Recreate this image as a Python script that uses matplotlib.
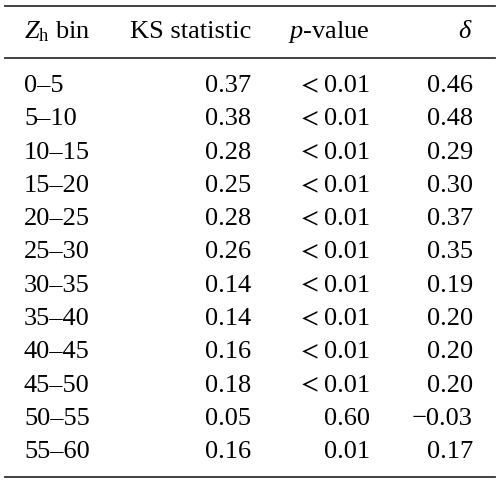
import matplotlib
matplotlib.use("Agg")
import matplotlib.pyplot as plt

bins = ["0–5", "5–10", "10–15", "15–20", "20–25", "25–30", "30–35",
        "35–40", "40–45", "45–50", "50–55", "55–60"]
ks_stat = ["0.37", "0.38", "0.28", "0.25", "0.28", "0.26", "0.14",
           "0.14", "0.16", "0.18", "0.05", "0.16"]
p_values = ["< 0.01"] * 10 + ["0.60", "0.01"]
deltas = ["0.46", "0.48", "0.29", "0.30", "0.37", "0.35", "0.19",
          "0.20", "0.20", "0.20", "−0.03", "0.17"]
headers = [r"$Z_{\mathrm{h}}$ bin", "KS statistic", r"$p$-value", r"$\delta$"]

plt.rcParams['font.family'] = ['Liberation Serif', 'DejaVu Serif']
plt.rcParams['mathtext.fontset'] = 'custom'
plt.rcParams['mathtext.rm'] = 'Liberation Serif'
plt.rcParams['mathtext.it'] = 'Liberation Serif:italic'
plt.rcParams['mathtext.bf'] = 'Liberation Serif:bold'
plt.rcParams['mathtext.fallback'] = 'stix'

fig = plt.figure(figsize=(5.0, 4.83), dpi=100)
ax = fig.add_axes([0, 0, 1, 1])
ax.set_xlim(0, 500)
ax.set_ylim(483, 0)
ax.axis('off')

fs = 19
col_x = [24, 251, 370, 473]
aligns = ['left', 'right', 'right', 'right']
line_kw = dict(color='#333333', lw=1.3)

ax.plot([5, 495], [6, 6], **line_kw)
ax.plot([5, 495], [58, 58], **line_kw)
ax.plot([5, 495], [477, 477], **line_kw)

for x, h, a in zip(col_x, headers, aligns):
    ax.text(x, 38, h, ha=a, va='baseline', fontsize=fs)

y0, dy = 92, 33.3
for i, (b, k, p, d) in enumerate(zip(bins, ks_stat, p_values, deltas)):
    y = y0 + i * dy
    ax.text(col_x[0], y, b, ha='left', va='baseline', fontsize=fs)
    ax.text(col_x[1], y, k, ha='right', va='baseline', fontsize=fs)
    ax.text(col_x[3], y, d, ha='right', va='baseline', fontsize=fs)
    if p.startswith("<"):
        ax.text(col_x[2], y, p.replace("<", "").strip(), ha='right',
                va='baseline', fontsize=fs)
        ax.text(col_x[2] - 51, y, r"$<$", ha='right', va='baseline',
                fontsize=fs, math_fontfamily='stix')
    else:
        ax.text(col_x[2], y, p, ha='right', va='baseline', fontsize=fs)

fig.savefig("out.png", dpi=100)
